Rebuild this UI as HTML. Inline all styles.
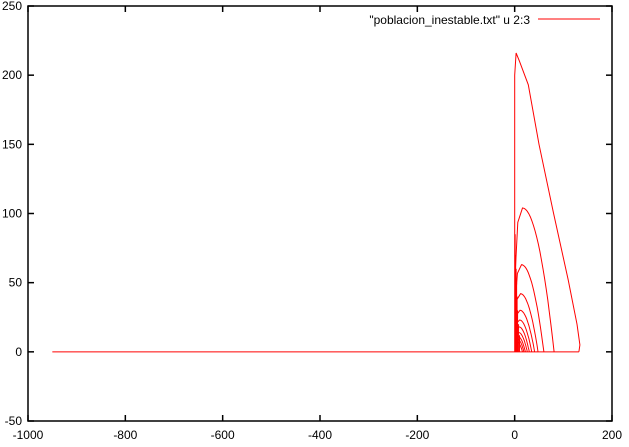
<!DOCTYPE html>
<html><head><meta charset="utf-8"><style>
body{margin:0;background:#fff}
svg{display:block;font-family:"Liberation Sans",sans-serif;font-size:12px}
</style></head><body>
<svg id="chart" width="629" height="447" viewBox="0 0 629 447" xmlns="http://www.w3.org/2000/svg">
<rect x="28" y="6" width="584" height="415" fill="none" stroke="#000" stroke-width="1.5"/>
<g id="ticks"></g>
<g id="series"></g>
<g>
<text x="530" y="24" text-anchor="end">"poblacion_inestable.txt" u 2:3</text>
<line x1="538" y1="19" x2="600" y2="19" stroke="#f00"/>
</g>
</svg>
<script>
const xTicks=[-1000,-800,-600,-400,-200,0,200];
const yTicks=[-50,0,50,100,150,200,250];
// outer loop traced explicitly (x, y)
const outerX=[0,0,3,10,28,50,80,110,128,134,132];
const outerY=[0,200,216,210,193,150,100,52,20,5,0];
// inner loops: peak height, x of peak, x where loop meets zero
const arcPeaks=[104,63,42,30,23,18,14,11,9,7];
const arcPeakX=[16,14,12,11,10,9,8,7,6,5];
const arcEnds=[81,60,48,41,35,30,26,22,19,16];
// dense near-vertical strokes close to x=0
const spikeX=[1,2,3,4,5,6,8,10];
const spikeH=[85,70,60,50,40,30,20,12];
const baseStart=-950, baseEnd=132;
const L=28,R=612,T=6,B=421;
const sx=v=>L+(v+1000)/1200*(R-L);
const sy=v=>B-(v+50)/300*(B-T);
const NS="http://www.w3.org/2000/svg";
const tg=document.getElementById('ticks'), sg=document.getElementById('series');
function mk(tag,attrs,parent){const e=document.createElementNS(NS,tag);for(const k in attrs)e.setAttribute(k,attrs[k]);parent.appendChild(e);return e;}
xTicks.forEach(v=>{const x=sx(v);
 const t1=mk('line',{x1:x,y1:B,x2:x,y2:B-6,stroke:'#000','stroke-width':1.5},tg);
 
 
 const t2=mk('line',{x1:x,y1:T,x2:x,y2:T+6,stroke:'#000','stroke-width':1.5},tg);
 
 
 const tx=mk('text',{x:x,y:439,'text-anchor':'middle'},tg);tx.textContent=v;
 
 
});
yTicks.forEach(v=>{const y=sy(v);
 const t1=mk('line',{x1:L,y1:y,x2:L+6,y2:y,stroke:'#000','stroke-width':1.5},tg);
 
 
 const t2=mk('line',{x1:R,y1:y,x2:R-6,y2:y,stroke:'#000','stroke-width':1.5},tg);
 
 
 const tx=mk('text',{x:L-6,y:y+4,'text-anchor':'end'},tg);tx.textContent=v;
 
 
});
const base=mk('line',{x1:sx(baseStart),y1:sy(0),x2:sx(baseEnd),y2:sy(0),stroke:'#f00'},sg);


let d='';outerX.forEach((x,i)=>{d+=(i?'L':'M')+sx(x).toFixed(1)+','+sy(outerY[i]).toFixed(1);});
const op=mk('path',{d:d,fill:'none',stroke:'#f00'},sg);


arcPeaks.forEach((P,k)=>{const xp=arcPeakX[k],X=arcEnds[k];
 let p='M'+sx(1).toFixed(1)+','+sy(0).toFixed(1)+'L'+sx(1).toFixed(1)+','+sy(P*0.55).toFixed(1)+'L'+sx(xp*0.4).toFixed(1)+','+sy(P*0.9).toFixed(1);
 for(let i=0;i<=20;i++){const s=i/20;p+='L'+sx(xp+(X-xp)*s).toFixed(1)+','+sy(P*(1-s*s)).toFixed(1);}
 const e=mk('path',{d:p,fill:'none',stroke:'#f00'},sg);
 
 
});
spikeX.forEach((x,i)=>{
 const e=mk('line',{x1:sx(x),y1:sy(0),x2:sx(x),y2:sy(spikeH[i]),stroke:'#f00'},sg);
 
 
});
</script>
</body></html>
